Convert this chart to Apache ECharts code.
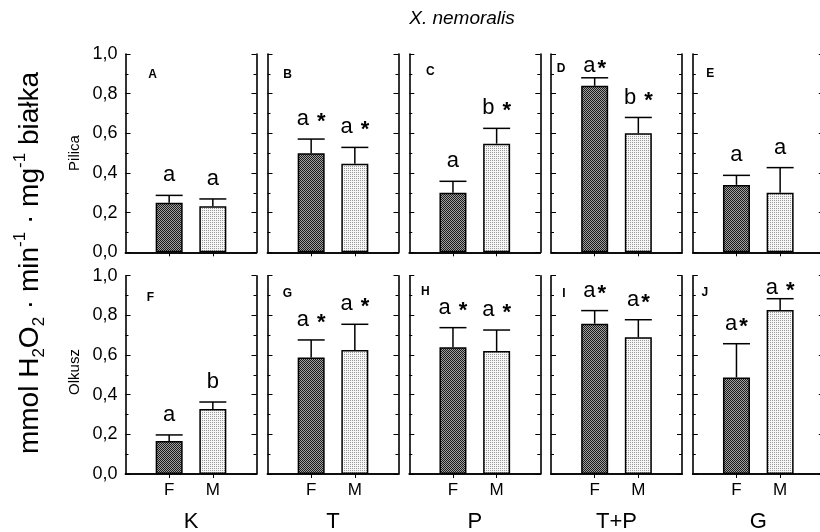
<!DOCTYPE html>
<html>
<head>
<meta charset="utf-8">
<script src="https://cdn.jsdelivr.net/npm/echarts@6/dist/echarts.min.js"></script>
<style>html,body{margin:0;padding:0;background:#fff}#c{width:820px;height:532px}</style>
</head>
<body>
<div id="c"></div>
<script>
// ---- data ----
const groups = ['K', 'T', 'P', 'T+P', 'G'];
const sexes = ['F', 'M'];
const sites = ['Pilica', 'Olkusz'];
const panelIds = [['A', 'B', 'C', 'D', 'E'], ['F', 'G', 'H', 'I', 'J']];
const yTicks = [0, 0.2, 0.4, 0.6, 0.8, 1.0];

const pilicaF    = [0.250, 0.500, 0.300, 0.840, 0.340];
const pilicaFErr = [0.037, 0.071, 0.058, 0.040, 0.048];
const pilicaM    = [0.232, 0.446, 0.548, 0.600, 0.300];
const pilicaMErr = [0.037, 0.083, 0.077, 0.080, 0.127];
const olkuszF    = [0.166, 0.588, 0.639, 0.758, 0.487];
const olkuszFErr = [0.031, 0.088, 0.099, 0.066, 0.170];
const olkuszM    = [0.328, 0.625, 0.620, 0.689, 0.827];
const olkuszMErr = [0.035, 0.130, 0.106, 0.089, 0.057];

const pilicaFLabel = ['a', 'a *', 'a', 'a*', 'a'];
const pilicaMLabel = ['a', 'a *', 'b *', 'b *', 'a'];
const olkuszFLabel = ['a', 'a *', 'a *', 'a*', 'a*'];
const olkuszMLabel = ['b', 'a *', 'a *', 'a*', 'a *'];

// ---- layout / style ----
const FONT = '"Liberation Sans", Arial, sans-serif';
const lefts = [125.5, 267.5, 409.3, 551, 692.8];
const tops = [54, 275.7];
const PW = 131, PH = 198.3;
const BAR_W = 27;
const LBL_FS = 22;
const letterDX = [[27, 20, 21, 10, 17.5], [25, 20, 16, 13, 12]];
const letterDY = [[21, 21, 18, 15, 20], [22, 18, 16, 18, 17]];

function pattern(size, draw) {
  const c = document.createElement('canvas');
  c.width = c.height = size;
  draw(c.getContext('2d'));
  return { image: c, repeat: 'repeat' };
}
const patF = pattern(2, ctx => {
  ctx.fillStyle = '#a0a0a0'; ctx.fillRect(0, 0, 2, 2);
  ctx.fillStyle = '#1c1c1c'; ctx.fillRect(0, 0, 1, 1); ctx.fillRect(1, 1, 1, 1);
});
const patM = pattern(2, ctx => {
  ctx.fillStyle = '#f6f6f6'; ctx.fillRect(0, 0, 2, 2);
  ctx.fillStyle = '#9a9a9a'; ctx.fillRect(0, 0, 1, 1);
});

const mctx = document.createElement('canvas').getContext('2d');
function textW(t, bold) { mctx.font = (bold ? 'bold ' : '') + LBL_FS + 'px ' + FONT; return mctx.measureText(t).width; }

const rowsData = [
  { F: pilicaF, FE: pilicaFErr, M: pilicaM, ME: pilicaMErr, FL: pilicaFLabel, ML: pilicaMLabel },
  { F: olkuszF, FE: olkuszFErr, M: olkuszM, ME: olkuszMErr, FL: olkuszFLabel, ML: olkuszMLabel }
];
const cats = [''].concat(sexes).concat(['']);

const grids = [], xAxes = [], yAxes = [], series = [], graphic = [];
const tickFn = (i) => i === 1 || i === 2;

for (let r = 0; r < 2; r++) {
  for (let c = 0; c < 5; c++) {
    const g = r * 5 + c;
    const gTop = tops[r];
    grids.push({ left: lefts[c], top: gTop, width: PW, height: PH, containLabel: false, outerBoundsMode: 'none' });
    const axLine = { show: true, lineStyle: { color: '#000', width: 1.6 } };
    xAxes.push({
      type: 'category', gridIndex: g, data: cats, boundaryGap: false, position: 'bottom',
      axisLine: axLine,
      axisTick: { show: true, inside: true, length: 4, interval: tickFn, lineStyle: { color: '#000', width: 1 } },
      axisLabel: { show: r === 1, interval: 0, color: '#000', fontSize: 17, fontFamily: FONT, margin: 8 },
      splitLine: { show: false },
      name: r === 1 ? groups[c] : '', nameLocation: 'middle', nameGap: 37,
      nameTextStyle: { color: '#000', fontSize: 22, fontFamily: FONT }
    });
    xAxes.push({
      type: 'category', gridIndex: g, data: cats, boundaryGap: false, position: 'top',
      axisLine: axLine,
      axisTick: { show: true, inside: true, length: 4, interval: tickFn, lineStyle: { color: '#000', width: 1 } },
      axisLabel: { show: false }, splitLine: { show: false }
    });
    const yBase = {
      type: 'value', gridIndex: g, min: yTicks[0], max: yTicks[yTicks.length - 1], interval: 0.2,
      axisLine: axLine,
      axisTick: { show: true, inside: true, length: 5, lineStyle: { color: '#000', width: 1 } },
      minorTick: { show: true, splitNumber: 2, length: 3, lineStyle: { color: '#000', width: 1 } },
      splitLine: { show: false }, minorSplitLine: { show: false }
    };
    yAxes.push(Object.assign({}, yBase, {
      position: 'left',
      axisLabel: { show: c === 0, color: '#000', fontSize: 18, fontFamily: FONT, margin: 8,
        formatter: v => v.toFixed(1).replace('.', ',') }
    }));
    yAxes.push(Object.assign({}, yBase, { position: 'right', axisLabel: { show: false } }));

    const d = rowsData[r];
    series.push({
      type: 'bar', xAxisIndex: 2 * g, yAxisIndex: 2 * g, barWidth: BAR_W, z: 2,
      itemStyle: { borderColor: '#000', borderWidth: 1.5 },
      data: ['-',
        { value: d.F[c], itemStyle: { color: patF, borderColor: '#000', borderWidth: 1.5 } },
        { value: d.M[c], itemStyle: { color: patM, borderColor: '#000', borderWidth: 1.5 } },
        '-']
    });
    const labels = [d.FL[c], d.ML[c]];
    series.push({
      type: 'custom', xAxisIndex: 2 * g, yAxisIndex: 2 * g, z: 5, clip: false,
      data: [[1, d.F[c], d.F[c] + d.FE[c]], [2, d.M[c], d.M[c] + d.ME[c]]],
      encode: { x: 0, y: 2 },
      renderItem: (params, api) => {
        const p0 = api.coord([api.value(0), api.value(1)]);
        const p1 = api.coord([api.value(0), api.value(2)]);
        const x = p0[0], yb = p0[1], yt = p1[1];
        const half = BAR_W / 2;
        const ls = { stroke: '#000', lineWidth: 1.5 };
        const children = [
          { type: 'line', shape: { x1: x, y1: yb, x2: x, y2: yt }, style: ls },
          { type: 'line', shape: { x1: x - half, y1: yt, x2: x + half, y2: yt }, style: ls }
        ];
        const lbl = labels[params.dataIndex];
        const letter = lbl[0];
        const star = lbl.indexOf('*') >= 0;
        const gap = lbl.indexOf(' ') >= 0 ? textW(' ') + 2 : 2;
        const wa = textW(letter), ws = star ? textW('*', true) : 0;
        const total = wa + (star ? gap + ws : 0);
        const cy = Math.max(yt - 20, gTop + 12);
        const lx = x - total / 2;
        children.push({ type: 'text', x: lx, y: cy, style: { text: letter, fill: '#000', font: LBL_FS + 'px ' + FONT, align: 'left', verticalAlign: 'middle' } });
        if (star) {
          children.push({ type: 'text', x: lx + wa + gap, y: cy + 3, style: { text: '*', fill: '#000', font: 'bold ' + LBL_FS + 'px ' + FONT, align: 'left', verticalAlign: 'middle' } });
        }
        return { type: 'group', children };
      }
    });
    graphic.push({
      type: 'text', x: lefts[c] + letterDX[r][c], y: gTop + letterDY[r][c],
      style: { text: panelIds[r][c], fill: '#000', font: 'bold 12px ' + FONT, align: 'center', verticalAlign: 'middle' }
    });
  }
}

graphic.push({ type: 'text', x: 462, y: 19, style: { text: 'X. nemoralis', fill: '#000', font: 'italic 19px ' + FONT, align: 'center', verticalAlign: 'middle' } });
graphic.push({ type: 'text', x: 75, y: 153, rotation: Math.PI / 2, style: { text: sites[0], fill: '#000', font: '15px ' + FONT, align: 'center', verticalAlign: 'middle' } });
graphic.push({ type: 'text', x: 75, y: 372, rotation: Math.PI / 2, style: { text: sites[1], fill: '#000', font: '15px ' + FONT, align: 'center', verticalAlign: 'middle' } });
graphic.push({
  type: 'text', x: 30, y: 263, rotation: Math.PI / 2,
  style: {
    text: '{n|mmol H}{sub|2}{n|O}{sub|2}{n| · min}{sup|-1}{n| · mg}{sup|-1}{n| białka}',
    align: 'center', verticalAlign: 'middle', fill: '#000',
    rich: {
      n: { fontSize: 28, fontFamily: FONT, lineHeight: 36, verticalAlign: 'middle', fill: '#000' },
      sub: { fontSize: 17, fontFamily: FONT, lineHeight: 17, verticalAlign: 'bottom', fill: '#000' },
      sup: { fontSize: 17, fontFamily: FONT, lineHeight: 17, verticalAlign: 'top', fill: '#000' }
    }
  }
});

const chart = echarts.init(document.getElementById('c'), null, { renderer: 'canvas' });
chart.setOption({ animation: false, backgroundColor: '#fff', grid: grids, xAxis: xAxes, yAxis: yAxes, series, graphic });
</script>
</body>
</html>
